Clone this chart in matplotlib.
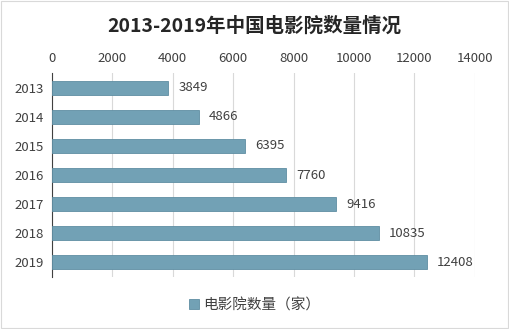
import matplotlib
matplotlib.use("Agg")
import matplotlib.pyplot as plt
from matplotlib.patches import Rectangle

plt.rcParams['font.family'] = ['Noto Sans CJK SC', 'DejaVu Sans']

years = ['2013', '2014', '2015', '2016', '2017', '2018', '2019']
cinemas = [3849, 4866, 6395, 7760, 9416, 10835, 12408]
xticks = [0, 2000, 4000, 6000, 8000, 10000, 12000, 14000]

bar_color = '#72A1B5'
text_color = '#404040'

fig = plt.figure(figsize=(5.09, 3.29), dpi=100)
ax = fig.add_axes([0.102, 0.158, 0.831, 0.62])

ax.barh(range(len(years)), cinemas, height=0.48, color=bar_color,
        edgecolor='#5f8ea3', linewidth=0.6, label='电影院数量（家）', zorder=3)
# value labels to the right of each bar
for i, v in enumerate(cinemas):
    ax.text(v + 330, i, str(v), va='center', ha='left', fontsize=9.5, color=text_color)

ax.set_xlim(0, 14000)
ax.set_ylim(6.5, -0.5)
ax.set_yticks(range(len(years)))
ax.set_yticklabels(years)
ax.set_xticks(xticks)
ax.xaxis.tick_top()
ax.tick_params(axis='x', length=0, labelsize=9.5, colors=text_color, pad=6)
ax.tick_params(axis='y', length=0, labelsize=9.5, colors=text_color, pad=6)
ax.grid(axis='x', color='#d9d9d9', linewidth=0.8, zorder=0)
for s in ['top', 'right', 'bottom']:
    ax.spines[s].set_visible(False)
ax.spines['left'].set_color('#404040')
ax.spines['left'].set_linewidth(0.8)

fig.text(0.5, 0.922, '2013-2019年中国电影院数量情况', ha='center', va='center',
         fontsize=14, fontweight='bold', color='#262626')

fig.legend(loc='center', bbox_to_anchor=(0.5, 0.072), frameon=False,
           fontsize=10.5, handlelength=0.7, handleheight=0.7, handletextpad=0.3,
           labelcolor=text_color)

# thin light frame around the whole picture
fig.patches.append(Rectangle((0.002, 0.003), 0.996, 0.994, transform=fig.transFigure,
                             fill=False, edgecolor='#d9d9d9', linewidth=0.8))

fig.savefig('out.png', dpi=100)
